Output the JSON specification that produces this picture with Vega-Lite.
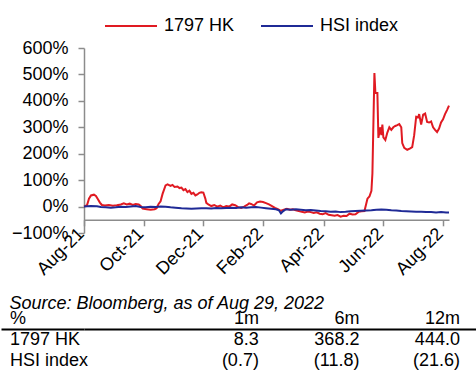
{
  "$schema": "https://vega.github.io/schema/vega-lite/v6.json",
  "background": "white",
  "padding": {"top": 12, "left": 0, "right": 0, "bottom": 0},
  "autosize": {"type": "pad"},
  "config": {
    "font": "Liberation Sans",
    "view": {"stroke": null},
    "axis": {"labelFont": "Liberation Sans", "titleFont": "Liberation Sans"},
    "legend": {"labelFont": "Liberation Sans"}
  },
  "spacing": 16,
  "resolve": {"scale": {"color": "independent"}, "legend": {"color": "independent"}},
  "vconcat": [
    {
      "width": 365,
      "height": 185,
      "data": {
        "values": [
          {"d": "2021-08-27", "s": "1797 HK", "v": 0},
          {"d": "2021-08-30", "s": "1797 HK", "v": 0.05},
          {"d": "2021-09-01", "s": "1797 HK", "v": 0.30},
          {"d": "2021-09-03", "s": "1797 HK", "v": 0.42},
          {"d": "2021-09-06", "s": "1797 HK", "v": 0.45},
          {"d": "2021-09-08", "s": "1797 HK", "v": 0.40},
          {"d": "2021-09-10", "s": "1797 HK", "v": 0.28},
          {"d": "2021-09-12", "s": "1797 HK", "v": 0.15},
          {"d": "2021-09-14", "s": "1797 HK", "v": 0.06},
          {"d": "2021-09-17", "s": "1797 HK", "v": 0.04},
          {"d": "2021-09-21", "s": "1797 HK", "v": 0.06},
          {"d": "2021-09-25", "s": "1797 HK", "v": 0.03},
          {"d": "2021-09-29", "s": "1797 HK", "v": 0.05},
          {"d": "2021-10-03", "s": "1797 HK", "v": 0.08},
          {"d": "2021-10-06", "s": "1797 HK", "v": 0.12},
          {"d": "2021-10-09", "s": "1797 HK", "v": 0.08},
          {"d": "2021-10-12", "s": "1797 HK", "v": 0.11},
          {"d": "2021-10-15", "s": "1797 HK", "v": 0.06},
          {"d": "2021-10-18", "s": "1797 HK", "v": 0.10},
          {"d": "2021-10-21", "s": "1797 HK", "v": 0.08},
          {"d": "2021-10-23", "s": "1797 HK", "v": 0.02},
          {"d": "2021-10-25", "s": "1797 HK", "v": -0.08},
          {"d": "2021-10-29", "s": "1797 HK", "v": -0.10},
          {"d": "2021-11-02", "s": "1797 HK", "v": -0.12},
          {"d": "2021-11-06", "s": "1797 HK", "v": -0.10},
          {"d": "2021-11-08", "s": "1797 HK", "v": -0.06},
          {"d": "2021-11-10", "s": "1797 HK", "v": 0.10},
          {"d": "2021-11-12", "s": "1797 HK", "v": 0.20},
          {"d": "2021-11-14", "s": "1797 HK", "v": 0.48},
          {"d": "2021-11-17", "s": "1797 HK", "v": 0.80},
          {"d": "2021-11-19", "s": "1797 HK", "v": 0.84},
          {"d": "2021-11-22", "s": "1797 HK", "v": 0.78},
          {"d": "2021-11-24", "s": "1797 HK", "v": 0.82},
          {"d": "2021-11-26", "s": "1797 HK", "v": 0.74},
          {"d": "2021-11-29", "s": "1797 HK", "v": 0.76},
          {"d": "2021-12-01", "s": "1797 HK", "v": 0.70},
          {"d": "2021-12-03", "s": "1797 HK", "v": 0.72},
          {"d": "2021-12-05", "s": "1797 HK", "v": 0.62},
          {"d": "2021-12-07", "s": "1797 HK", "v": 0.66},
          {"d": "2021-12-09", "s": "1797 HK", "v": 0.55},
          {"d": "2021-12-11", "s": "1797 HK", "v": 0.60},
          {"d": "2021-12-13", "s": "1797 HK", "v": 0.48},
          {"d": "2021-12-15", "s": "1797 HK", "v": 0.52},
          {"d": "2021-12-17", "s": "1797 HK", "v": 0.42},
          {"d": "2021-12-19", "s": "1797 HK", "v": 0.46},
          {"d": "2021-12-21", "s": "1797 HK", "v": 0.52},
          {"d": "2021-12-23", "s": "1797 HK", "v": 0.54},
          {"d": "2021-12-25", "s": "1797 HK", "v": 0.53},
          {"d": "2021-12-27", "s": "1797 HK", "v": 0.30},
          {"d": "2021-12-28", "s": "1797 HK", "v": 0.14},
          {"d": "2021-12-30", "s": "1797 HK", "v": 0.08},
          {"d": "2022-01-02", "s": "1797 HK", "v": 0.02},
          {"d": "2022-01-05", "s": "1797 HK", "v": 0.06},
          {"d": "2022-01-08", "s": "1797 HK", "v": 0},
          {"d": "2022-01-11", "s": "1797 HK", "v": 0.04},
          {"d": "2022-01-14", "s": "1797 HK", "v": -0.03},
          {"d": "2022-01-17", "s": "1797 HK", "v": 0.02},
          {"d": "2022-01-20", "s": "1797 HK", "v": 0},
          {"d": "2022-01-23", "s": "1797 HK", "v": 0.08},
          {"d": "2022-01-26", "s": "1797 HK", "v": 0.05},
          {"d": "2022-01-29", "s": "1797 HK", "v": -0.02},
          {"d": "2022-02-01", "s": "1797 HK", "v": -0.05},
          {"d": "2022-02-04", "s": "1797 HK", "v": 0},
          {"d": "2022-02-07", "s": "1797 HK", "v": 0.06},
          {"d": "2022-02-09", "s": "1797 HK", "v": 0.12},
          {"d": "2022-02-11", "s": "1797 HK", "v": 0.10},
          {"d": "2022-02-14", "s": "1797 HK", "v": 0.04},
          {"d": "2022-02-17", "s": "1797 HK", "v": 0.16},
          {"d": "2022-02-20", "s": "1797 HK", "v": 0.19},
          {"d": "2022-02-23", "s": "1797 HK", "v": 0.17},
          {"d": "2022-02-26", "s": "1797 HK", "v": 0.13},
          {"d": "2022-03-01", "s": "1797 HK", "v": 0.08},
          {"d": "2022-03-04", "s": "1797 HK", "v": 0.02},
          {"d": "2022-03-07", "s": "1797 HK", "v": -0.05},
          {"d": "2022-03-10", "s": "1797 HK", "v": -0.10},
          {"d": "2022-03-13", "s": "1797 HK", "v": -0.16},
          {"d": "2022-03-16", "s": "1797 HK", "v": -0.12},
          {"d": "2022-03-19", "s": "1797 HK", "v": -0.08},
          {"d": "2022-03-22", "s": "1797 HK", "v": -0.12},
          {"d": "2022-03-25", "s": "1797 HK", "v": -0.10},
          {"d": "2022-03-28", "s": "1797 HK", "v": -0.14},
          {"d": "2022-03-31", "s": "1797 HK", "v": -0.17},
          {"d": "2022-04-03", "s": "1797 HK", "v": -0.20},
          {"d": "2022-04-06", "s": "1797 HK", "v": -0.22},
          {"d": "2022-04-09", "s": "1797 HK", "v": -0.19},
          {"d": "2022-04-12", "s": "1797 HK", "v": -0.21},
          {"d": "2022-04-15", "s": "1797 HK", "v": -0.24},
          {"d": "2022-04-18", "s": "1797 HK", "v": -0.22},
          {"d": "2022-04-21", "s": "1797 HK", "v": -0.27},
          {"d": "2022-04-24", "s": "1797 HK", "v": -0.29},
          {"d": "2022-04-27", "s": "1797 HK", "v": -0.25},
          {"d": "2022-04-30", "s": "1797 HK", "v": -0.31},
          {"d": "2022-05-03", "s": "1797 HK", "v": -0.33},
          {"d": "2022-05-06", "s": "1797 HK", "v": -0.35},
          {"d": "2022-05-09", "s": "1797 HK", "v": -0.32},
          {"d": "2022-05-12", "s": "1797 HK", "v": -0.38},
          {"d": "2022-05-15", "s": "1797 HK", "v": -0.35},
          {"d": "2022-05-18", "s": "1797 HK", "v": -0.36},
          {"d": "2022-05-21", "s": "1797 HK", "v": -0.27},
          {"d": "2022-05-24", "s": "1797 HK", "v": -0.30},
          {"d": "2022-05-27", "s": "1797 HK", "v": -0.29},
          {"d": "2022-05-30", "s": "1797 HK", "v": -0.20},
          {"d": "2022-06-02", "s": "1797 HK", "v": -0.18},
          {"d": "2022-06-05", "s": "1797 HK", "v": -0.17},
          {"d": "2022-06-08", "s": "1797 HK", "v": 0.30},
          {"d": "2022-06-10", "s": "1797 HK", "v": 0.38},
          {"d": "2022-06-12", "s": "1797 HK", "v": 0.60},
          {"d": "2022-06-13", "s": "1797 HK", "v": 1.26},
          {"d": "2022-06-15", "s": "1797 HK", "v": 5.05},
          {"d": "2022-06-16", "s": "1797 HK", "v": 4.30},
          {"d": "2022-06-18", "s": "1797 HK", "v": 4.30},
          {"d": "2022-06-19", "s": "1797 HK", "v": 2.60},
          {"d": "2022-06-20", "s": "1797 HK", "v": 2.80},
          {"d": "2022-06-21", "s": "1797 HK", "v": 3.00},
          {"d": "2022-06-22", "s": "1797 HK", "v": 2.70},
          {"d": "2022-06-23", "s": "1797 HK", "v": 3.10},
          {"d": "2022-06-24", "s": "1797 HK", "v": 2.62},
          {"d": "2022-06-26", "s": "1797 HK", "v": 2.52},
          {"d": "2022-06-28", "s": "1797 HK", "v": 2.80},
          {"d": "2022-06-30", "s": "1797 HK", "v": 3.00},
          {"d": "2022-07-02", "s": "1797 HK", "v": 2.90},
          {"d": "2022-07-04", "s": "1797 HK", "v": 3.00},
          {"d": "2022-07-06", "s": "1797 HK", "v": 3.05},
          {"d": "2022-07-08", "s": "1797 HK", "v": 3.08},
          {"d": "2022-07-10", "s": "1797 HK", "v": 3.12},
          {"d": "2022-07-12", "s": "1797 HK", "v": 3.00},
          {"d": "2022-07-13", "s": "1797 HK", "v": 2.40},
          {"d": "2022-07-15", "s": "1797 HK", "v": 2.22},
          {"d": "2022-07-18", "s": "1797 HK", "v": 2.15},
          {"d": "2022-07-21", "s": "1797 HK", "v": 2.20},
          {"d": "2022-07-23", "s": "1797 HK", "v": 2.25},
          {"d": "2022-07-25", "s": "1797 HK", "v": 2.70},
          {"d": "2022-07-27", "s": "1797 HK", "v": 3.40},
          {"d": "2022-07-29", "s": "1797 HK", "v": 3.38},
          {"d": "2022-07-30", "s": "1797 HK", "v": 3.50},
          {"d": "2022-08-01", "s": "1797 HK", "v": 3.10},
          {"d": "2022-08-03", "s": "1797 HK", "v": 3.48},
          {"d": "2022-08-05", "s": "1797 HK", "v": 3.52},
          {"d": "2022-08-07", "s": "1797 HK", "v": 3.20},
          {"d": "2022-08-09", "s": "1797 HK", "v": 3.18},
          {"d": "2022-08-11", "s": "1797 HK", "v": 3.22},
          {"d": "2022-08-13", "s": "1797 HK", "v": 3.00},
          {"d": "2022-08-15", "s": "1797 HK", "v": 2.90},
          {"d": "2022-08-17", "s": "1797 HK", "v": 2.82},
          {"d": "2022-08-19", "s": "1797 HK", "v": 2.95},
          {"d": "2022-08-21", "s": "1797 HK", "v": 3.18},
          {"d": "2022-08-23", "s": "1797 HK", "v": 3.30},
          {"d": "2022-08-25", "s": "1797 HK", "v": 3.50},
          {"d": "2022-08-27", "s": "1797 HK", "v": 3.65},
          {"d": "2022-08-29", "s": "1797 HK", "v": 3.82},
          {"d": "2021-08-27", "s": "HSI index", "v": 0},
          {"d": "2021-09-03", "s": "HSI index", "v": 0.02},
          {"d": "2021-09-09", "s": "HSI index", "v": 0.01},
          {"d": "2021-09-13", "s": "HSI index", "v": -0.02},
          {"d": "2021-09-18", "s": "HSI index", "v": -0.03},
          {"d": "2021-09-23", "s": "HSI index", "v": -0.04},
          {"d": "2021-09-28", "s": "HSI index", "v": -0.03},
          {"d": "2021-10-03", "s": "HSI index", "v": -0.01},
          {"d": "2021-10-08", "s": "HSI index", "v": -0.02},
          {"d": "2021-10-13", "s": "HSI index", "v": 0},
          {"d": "2021-10-18", "s": "HSI index", "v": 0.02},
          {"d": "2021-10-23", "s": "HSI index", "v": -0.02},
          {"d": "2021-10-28", "s": "HSI index", "v": -0.03},
          {"d": "2021-11-02", "s": "HSI index", "v": -0.01},
          {"d": "2021-11-07", "s": "HSI index", "v": -0.02},
          {"d": "2021-11-12", "s": "HSI index", "v": 0},
          {"d": "2021-11-17", "s": "HSI index", "v": -0.01},
          {"d": "2021-11-22", "s": "HSI index", "v": -0.03},
          {"d": "2021-11-27", "s": "HSI index", "v": -0.04},
          {"d": "2021-12-03", "s": "HSI index", "v": -0.06},
          {"d": "2021-12-08", "s": "HSI index", "v": -0.07},
          {"d": "2021-12-13", "s": "HSI index", "v": -0.08},
          {"d": "2021-12-18", "s": "HSI index", "v": -0.07},
          {"d": "2021-12-23", "s": "HSI index", "v": -0.06},
          {"d": "2021-12-28", "s": "HSI index", "v": -0.06},
          {"d": "2022-01-02", "s": "HSI index", "v": -0.07},
          {"d": "2022-01-07", "s": "HSI index", "v": -0.05},
          {"d": "2022-01-12", "s": "HSI index", "v": -0.06},
          {"d": "2022-01-17", "s": "HSI index", "v": -0.05},
          {"d": "2022-01-22", "s": "HSI index", "v": -0.04},
          {"d": "2022-01-27", "s": "HSI index", "v": -0.05},
          {"d": "2022-02-01", "s": "HSI index", "v": -0.03},
          {"d": "2022-02-06", "s": "HSI index", "v": -0.04},
          {"d": "2022-02-11", "s": "HSI index", "v": -0.03},
          {"d": "2022-02-16", "s": "HSI index", "v": -0.02},
          {"d": "2022-02-21", "s": "HSI index", "v": -0.04},
          {"d": "2022-02-26", "s": "HSI index", "v": -0.06},
          {"d": "2022-03-03", "s": "HSI index", "v": -0.08},
          {"d": "2022-03-08", "s": "HSI index", "v": -0.10},
          {"d": "2022-03-11", "s": "HSI index", "v": -0.14},
          {"d": "2022-03-13", "s": "HSI index", "v": -0.26},
          {"d": "2022-03-15", "s": "HSI index", "v": -0.18},
          {"d": "2022-03-18", "s": "HSI index", "v": -0.10},
          {"d": "2022-03-23", "s": "HSI index", "v": -0.12},
          {"d": "2022-03-28", "s": "HSI index", "v": -0.10},
          {"d": "2022-04-02", "s": "HSI index", "v": -0.12},
          {"d": "2022-04-07", "s": "HSI index", "v": -0.14},
          {"d": "2022-04-12", "s": "HSI index", "v": -0.13},
          {"d": "2022-04-17", "s": "HSI index", "v": -0.15},
          {"d": "2022-04-22", "s": "HSI index", "v": -0.17},
          {"d": "2022-04-27", "s": "HSI index", "v": -0.18},
          {"d": "2022-05-02", "s": "HSI index", "v": -0.20},
          {"d": "2022-05-07", "s": "HSI index", "v": -0.19},
          {"d": "2022-05-12", "s": "HSI index", "v": -0.21},
          {"d": "2022-05-17", "s": "HSI index", "v": -0.20},
          {"d": "2022-05-22", "s": "HSI index", "v": -0.18},
          {"d": "2022-05-27", "s": "HSI index", "v": -0.17},
          {"d": "2022-06-01", "s": "HSI index", "v": -0.16},
          {"d": "2022-06-07", "s": "HSI index", "v": -0.15},
          {"d": "2022-06-12", "s": "HSI index", "v": -0.14},
          {"d": "2022-06-17", "s": "HSI index", "v": -0.12},
          {"d": "2022-06-22", "s": "HSI index", "v": -0.11},
          {"d": "2022-06-27", "s": "HSI index", "v": -0.12},
          {"d": "2022-07-02", "s": "HSI index", "v": -0.14},
          {"d": "2022-07-07", "s": "HSI index", "v": -0.15},
          {"d": "2022-07-12", "s": "HSI index", "v": -0.17},
          {"d": "2022-07-17", "s": "HSI index", "v": -0.18},
          {"d": "2022-07-22", "s": "HSI index", "v": -0.19},
          {"d": "2022-07-27", "s": "HSI index", "v": -0.20},
          {"d": "2022-08-01", "s": "HSI index", "v": -0.20},
          {"d": "2022-08-06", "s": "HSI index", "v": -0.21},
          {"d": "2022-08-11", "s": "HSI index", "v": -0.21},
          {"d": "2022-08-16", "s": "HSI index", "v": -0.22},
          {"d": "2022-08-21", "s": "HSI index", "v": -0.21},
          {"d": "2022-08-26", "s": "HSI index", "v": -0.22},
          {"d": "2022-08-29", "s": "HSI index", "v": -0.22}
        ]
      },
      "mark": {"type": "line", "strokeWidth": 2},
      "encoding": {
        "x": {
          "field": "d",
          "type": "temporal",
          "scale": {"type": "utc", "nice": false},
          "axis": {
            "title": null,
            "values": [
              {"year": 2021, "month": 8, "date": 27, "utc": true},
              {"year": 2021, "month": 10, "date": 26, "utc": true},
              {"year": 2021, "month": 12, "date": 25, "utc": true},
              {"year": 2022, "month": 2, "date": 23, "utc": true},
              {"year": 2022, "month": 4, "date": 25, "utc": true},
              {"year": 2022, "month": 6, "date": 24, "utc": true},
              {"year": 2022, "month": 8, "date": 23, "utc": true}
            ],
            "labelExpr": "utcFormat(datum.value, '%b-%y')",
            "offset": -13.2,
            "grid": false,
            "domainColor": "#8c8c8c",
            "domainWidth": 1.5,
            "tickColor": "#8c8c8c",
            "tickWidth": 1.5,
            "tickSize": 6,
            "labelAngle": -45,
            "labelAlign": "right",
            "labelBaseline": "middle",
            "labelPadding": 5,
            "labelOffset": -3,
            "labelFontSize": 18,
            "labelColor": "black",
            "labelFlush": false,
            "labelOverlap": false
          }
        },
        "y": {
          "field": "v",
          "type": "quantitative",
          "scale": {"domain": [-1, 6], "nice": false, "zero": false},
          "axis": {
            "title": null,
            "values": [-1, 0, 1, 2, 3, 4, 5, 6],
            "format": ".0%",
            "grid": false,
            "domainColor": "#8c8c8c",
            "domainWidth": 1.5,
            "tickColor": "#8c8c8c",
            "tickWidth": 1.5,
            "tickSize": 6,
            "labelPadding": 10,
            "labelFontSize": 18,
            "labelColor": "black"
          }
        },
        "color": {
          "field": "s",
          "type": "nominal",
          "scale": {"domain": ["1797 HK", "HSI index"], "range": ["#e01a22", "#1f2a96"]},
          "legend": {
            "title": null,
            "orient": "none",
            "legendX": 20,
            "legendY": -36,
            "direction": "horizontal",
            "padding": 0,
            "symbolType": "M-1,0H3",
            "symbolSize": 676,
            "symbolStrokeWidth": 2,
            "labelFontSize": 18,
            "labelColor": "black",
            "labelOffset": 32,
            "columnPadding": 22
          }
        }
      }
    },
    {
      "width": 393,
      "height": 63,
      "title": {
        "text": "Source: Bloomberg, as of Aug 29, 2022",
        "anchor": "start",
        "frame": "group",
        "dx": -74.5,
        "offset": -19,
        "baseline": "alphabetic",
        "fontSize": 18,
        "fontStyle": "italic",
        "fontWeight": "normal",
        "color": "black"
      },
      "data": {
        "values": [
          {"r": "%", "c": "1m", "t": "1m"},
          {"r": "%", "c": "6m", "t": "6m"},
          {"r": "%", "c": "12m", "t": "12m"},
          {"r": "1797 HK", "c": "1m", "t": "8.3"},
          {"r": "1797 HK", "c": "6m", "t": "368.2"},
          {"r": "1797 HK", "c": "12m", "t": "444.0"},
          {"r": "HSI index", "c": "1m", "t": "(0.7)"},
          {"r": "HSI index", "c": "6m", "t": "(11.8)"},
          {"r": "HSI index", "c": "12m", "t": "(21.6)"}
        ]
      },
      "mark": {"type": "text", "align": "right", "baseline": "middle", "fontSize": 18, "color": "black"},
      "encoding": {
        "x": {
          "field": "c",
          "type": "nominal",
          "scale": {"type": "point", "domain": ["1m", "6m", "12m"], "padding": 0.955, "align": 0.911},
          "axis": null
        },
        "y": {
          "field": "r",
          "type": "nominal",
          "scale": {"type": "band", "domain": ["%", "1797 HK", "HSI index"], "paddingInner": 0, "paddingOuter": 0},
          "axis": {
            "title": null,
            "domain": false,
            "bandPosition": 0,
            "ticks": true,
            "tickSize": 83,
            "tickWidth": 2,
            "tickColor": "black",
            "tickOpacity": {"condition": {"test": "datum.value === '1797 HK'", "value": 1}, "value": 0},
            "grid": true,
            "gridWidth": 2,
            "gridColor": "black",
            "gridOpacity": {"condition": {"test": "datum.value === '1797 HK'", "value": 1}, "value": 0},
            "labelAlign": "left",
            "labelBaseline": "middle",
            "labelPadding": -8.5,
            "labelFontSize": 18,
            "labelColor": "black"
          }
        },
        "text": {"field": "t"}
      }
    }
  ]
}
